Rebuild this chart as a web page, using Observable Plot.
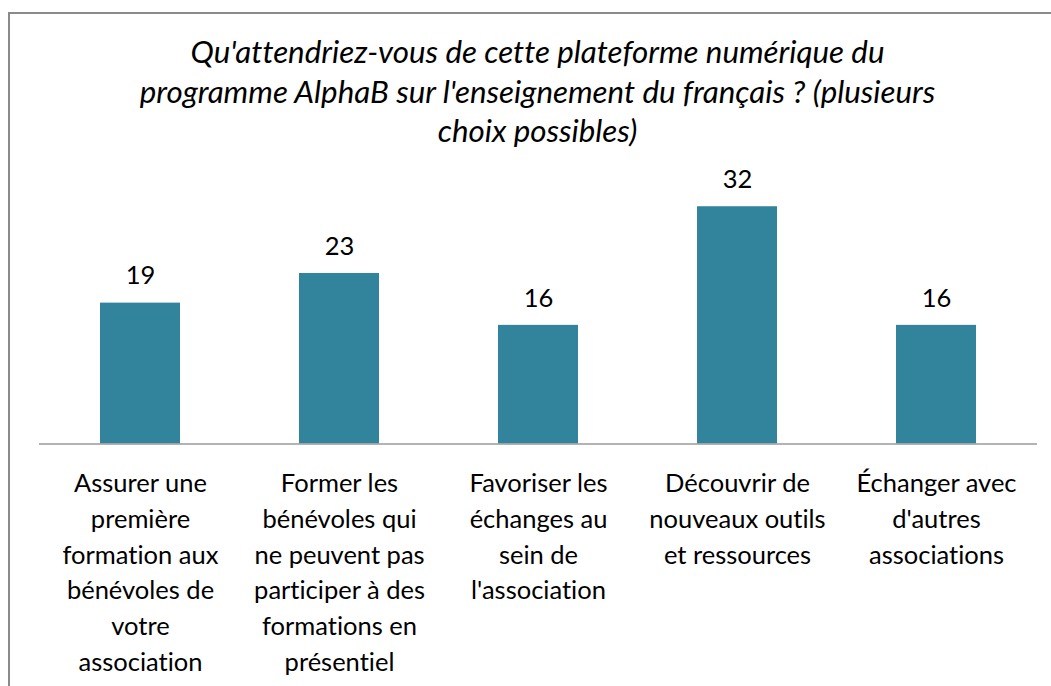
<!DOCTYPE html>
<html>
<head>
<meta charset="utf-8">
<script src="https://cdn.jsdelivr.net/npm/d3@7"></script>
<script src="https://cdn.jsdelivr.net/npm/@observablehq/plot@0.6"></script>
<style>
  html, body { margin: 0; padding: 0; background: #fff; overflow: hidden; }
  #wrap { position: relative; width: 1051px; height: 686px; overflow: hidden; font-family: Lato, "Open Sans", sans-serif; font-variant-ligatures: none; }
  #wrap svg, #wrap svg text { font-variant-ligatures: none; }
  #frame { position: absolute; left: 8px; top: 12px; width: 2000px; height: 2000px; border-left: 2px solid #8a8a8a; border-top: 2px solid #8a8a8a; box-sizing: border-box; }
  #title { position: absolute; left: 24px; top: 32px; width: 1027px; text-align: center; font-style: italic; font-size: 31.3px; line-height: 39.5px; color: #000; }
  #chart { position: absolute; left: 0; top: 160px; }
</style>
</head>
<body>
<div id="wrap">
  <div id="frame"></div>
  <div id="title">Qu'attendriez-vous de cette plateforme numérique du<br>programme AlphaB sur l'enseignement du français ? (plusieurs<br>choix possibles)</div>
  <div id="chart"></div>
</div>
<script>
const categories = [
  "Assurer une première formation aux bénévoles de votre association",
  "Former les bénévoles qui ne peuvent pas participer à des formations en présentiel",
  "Favoriser les échanges au sein de l'association",
  "Découvrir de nouveaux outils et ressources",
  "Échanger avec d'autres associations"
];
const values = [19, 23, 16, 32, 16];
const tickLabels = [
  "Assurer une\npremière\nformation aux\nbénévoles de\nvotre\nassociation",
  "Former les\nbénévoles qui\nne peuvent pas\nparticiper à des\nformations en\nprésentiel",
  "Favoriser les\néchanges au\nsein de\nl'association",
  "Découvrir de\nnouveaux outils\net ressources",
  "Échanger avec\nd'autres\nassociations"
];

const data = categories.map((c, i) => ({category: c, value: values[i], label: tickLabels[i]}));
const labelOf = new Map(data.map(d => [d.category, d.label]));
const fs = 25.5;

const chart = Plot.plot({
  width: 1051,
  height: 526,
  marginLeft: 39,
  marginRight: 14,
  marginTop: 24,
  marginBottom: 242.5,
  style: {fontFamily: "Lato, 'Open Sans', sans-serif", background: "transparent", color: "#000", fontVariantLigatures: "none"},
  x: {domain: categories, paddingInner: 0.6, paddingOuter: 0.3, label: null},
  y: {domain: [0, 35], axis: null},
  marks: [
    Plot.barY(data, {x: "category", y: "value", fill: "#31849B"}),
    Plot.ruleY([0], {stroke: "#9a9a9a", strokeWidth: 1.5}),
    Plot.text(data, {x: "category", y: "value", text: d => String(d.value), dy: -18.7 - 0.32 * fs, fontSize: fs, fill: "#000"}),
    Plot.axisX({tickSize: 0, tickPadding: 23, fontSize: fs, lineHeight: 35.7 / fs, tickFormat: c => labelOf.get(c), label: null, fill: "#000"})
  ]
});
document.getElementById("chart").appendChild(chart);
</script>
</body>
</html>
